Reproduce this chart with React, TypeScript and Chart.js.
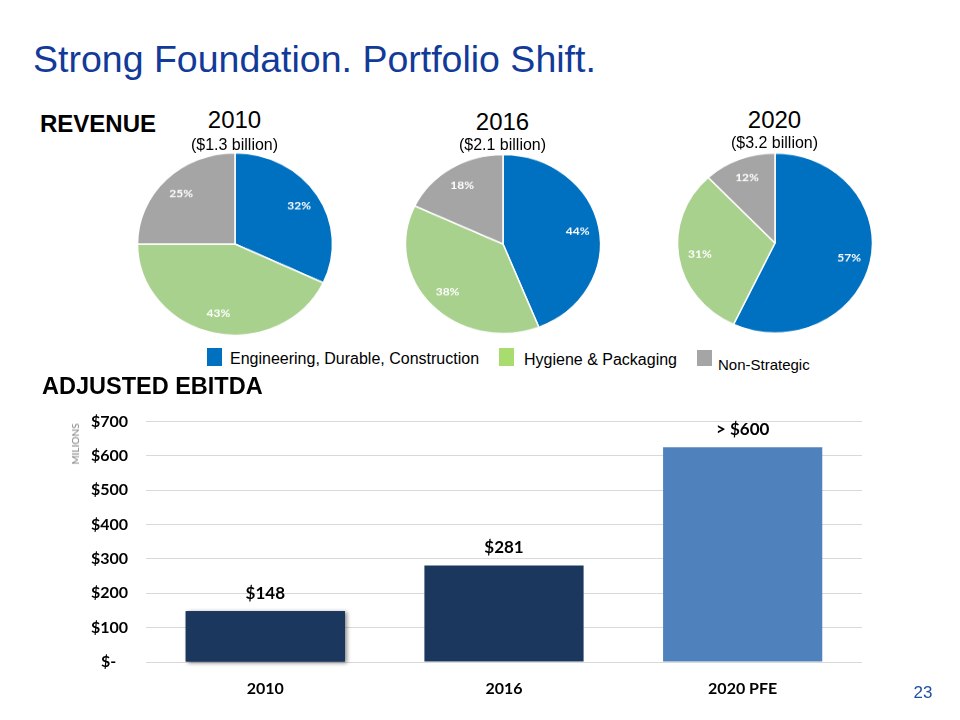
import React, { useEffect, useRef } from "react";
import { Chart, registerables } from "chart.js";
Chart.register(...registerables);

// ---------- data ----------
const segmentNames = ["Engineering, Durable, Construction", "Hygiene & Packaging", "Non-Strategic"];
const segmentColors = ["#0070C0", "#A9D18E", "#A5A5A5"];
const pieYears = ["2010", "2016", "2020"];
const pieTotals = ["($1.3 billion)", "($2.1 billion)", "($3.2 billion)"];
const share2010 = [32, 43, 25];
const share2016 = [44, 38, 18];
const share2020 = [57, 31, 12];

const ebitdaCategories = ["2010", "2016", "2020 PFE"];
const ebitdaValues = [148, 281, 625];
const ebitdaLabels = ["$148", "$281", "> $600"];
const ebitdaColors = ["#1B375E", "#1B375E", "#4F81BD"];
const yMax = 700;
const yStep = 100;

const ARIAL = '"Liberation Sans", Arial, sans-serif';
const CAL = 'Lato, "Open Sans", sans-serif';

// ---------- pie ----------
const pieLabelPlugin = {
  id: "pieLabels",
  afterDatasetsDraw(chart: any) {
    const ctx = chart.ctx;
    const meta = chart.getDatasetMeta(0);
    const data = chart.data.datasets[0].data;
    ctx.save();
    ctx.fillStyle = "#FFFFFF";
    ctx.font = `bold 12px ${CAL}`;
    ctx.textAlign = "center";
    ctx.textBaseline = "middle";
    meta.data.forEach((arc: any, i: number) => {
      const p = arc.getProps(["x", "y", "startAngle", "endAngle", "outerRadius"], true);
      const mid = (p.startAngle + p.endAngle) / 2;
      const r = p.outerRadius * 0.78;
      ctx.fillText(data[i] + "%", p.x + Math.cos(mid) * r, p.y + Math.sin(mid) * r);
    });
    ctx.restore();
  },
};

function Pie({ values, cx, cy, radius, scaleY }: { values: number[]; cx: number; cy: number; radius: number; scaleY: number }) {
  const ref = useRef<HTMLCanvasElement>(null);
  useEffect(() => {
    const chart = new Chart(ref.current!, {
      type: "pie",
      data: {
        labels: segmentNames,
        datasets: [
          {
            data: values,
            backgroundColor: segmentColors,
            borderColor: "#FFFFFF",
            borderWidth: 1.5,
            radius: radius,
          } as any,
        ],
      },
      options: {
        responsive: false,
        animation: false,
        plugins: { legend: { display: false }, tooltip: { enabled: false } },
        layout: { padding: 0 },
      },
      plugins: [pieLabelPlugin],
    });
    return () => chart.destroy();
  }, []);
  const S = 210;
  return (
    <canvas
      ref={ref}
      width={S}
      height={S}
      style={{
        position: "absolute",
        left: cx - S / 2,
        top: cy - S / 2,
        width: S,
        height: S,
        transform: `scaleY(${scaleY})`,
        transformOrigin: "50% 50%",
      }}
    />
  );
}

// ---------- bar ----------
const barLabelPlugin = {
  id: "barLabels",
  beforeDatasetsDraw(chart: any) {
    const ctx = chart.ctx;
    const bar: any = chart.getDatasetMeta(0).data[0];
    if (!bar) return;
    ctx.save();
    ctx.shadowColor = "rgba(0,0,0,0.45)";
    ctx.shadowBlur = 4;
    ctx.shadowOffsetX = 2;
    ctx.shadowOffsetY = 1;
    ctx.fillStyle = ebitdaColors[0];
    ctx.fillRect(bar.x - bar.width / 2, bar.y, bar.width, bar.base - bar.y);
    ctx.restore();
  },
  afterDatasetsDraw(chart: any) {
    const ctx = chart.ctx;
    const meta = chart.getDatasetMeta(0);
    ctx.save();
    ctx.fillStyle = "#000000";
    ctx.font = `bold 17px ${CAL}`;
    ctx.textAlign = "center";
    ctx.textBaseline = "bottom";
    meta.data.forEach((bar: any, i: number) => {
      ctx.fillText(ebitdaLabels[i], bar.x, bar.y - 9);
    });
    ctx.restore();
  },
};

function Bars() {
  const ref = useRef<HTMLCanvasElement>(null);
  useEffect(() => {
    const chart = new Chart(ref.current!, {
      type: "bar",
      data: {
        labels: ebitdaCategories,
        datasets: [
          {
            data: ebitdaValues,
            backgroundColor: ebitdaColors,
            borderWidth: 0,
            categoryPercentage: 1,
            barPercentage: 0.667,
          },
        ],
      },
      options: {
        responsive: false,
        animation: false,
        plugins: { legend: { display: false }, tooltip: { enabled: false } },
        layout: { padding: { top: 15, right: 98, left: 0, bottom: 0 } },
        scales: {
          x: {
            grid: { display: false, drawTicks: false },
            border: { display: false },
            ticks: { color: "#000", font: { family: CAL, size: 16, weight: "bold" }, padding: 17 },
            afterFit: (s: any) => {
              s.height = 58;
            },
          },
          y: {
            min: 0,
            max: yMax,
            grid: { color: "#D9D9D9", drawTicks: false, lineWidth: 1 },
            border: { display: false },
            ticks: {
              stepSize: yStep,
              color: "#000",
              font: { family: CAL, size: 16, weight: "bold" },
              padding: 18,
              callback: (v: any) => (Number(v) === 0 ? "$-   " : "$" + v),
            },
            afterFit: (s: any) => {
              s.width = 146;
            },
          },
        },
      } as any,
      plugins: [barLabelPlugin],
    });
    return () => chart.destroy();
  }, []);
  return (
    <canvas ref={ref} width={960} height={326} style={{ position: "absolute", left: 0, top: 394, width: 960, height: 326 }} />
  );
}

// ---------- helpers ----------
function Txt({ x, y, size, children, bold, color, align, family }: any) {
  const tx = align === "left" ? "0" : "-50%";
  return (
    <div
      style={{
        position: "absolute",
        left: x,
        top: y,
        transform: `translate(${tx}, -50%)`,
        fontFamily: family || ARIAL,
        fontSize: size,
        fontWeight: bold ? "bold" : "normal",
        color: color || "#000",
        lineHeight: 1,
        whiteSpace: "nowrap",
        zIndex: 2,
      }}
    >
      {children}
    </div>
  );
}

const pieCenters = [
  { cx: 234.5, cy: 244, r: 97.5, sy: 0.935 },
  { cx: 502.5, cy: 243.5, r: 97.5, sy: 0.918 },
  { cx: 774.5, cy: 243, r: 97.5, sy: 0.923 },
];
const pieShares = [share2010, share2016, share2020];
const pieTitleY = [120, 122, 120];
const pieTotalY = [145, 145, 143];

const legendItems = [
  { sx: 207, tx: 230, size: 16, ty: 359, sy: 348, sh: 18 },
  { sx: 499, tx: 524, size: 16, ty: 360, sy: 348, sh: 18 },
  { sx: 697, tx: 718, size: 15, ty: 364, sy: 350, sh: 16 },
];

export default function App() {
  return (
    <div style={{ position: "absolute", left: 0, top: 0, width: 960, height: 720, background: "#fff", overflow: "hidden" }}>
      <Txt x={33} y={60} size={37.5} color="#123A98" align="left">
        Strong Foundation. Portfolio Shift.
      </Txt>
      <Txt x={40} y={124} size={24} bold align="left">
        REVENUE
      </Txt>
      <Txt x={42} y={387} size={23.5} bold align="left">
        ADJUSTED EBITDA
      </Txt>

      {pieCenters.map((p, i) => (
        <React.Fragment key={i}>
          <Pie values={pieShares[i]} cx={p.cx} cy={p.cy} radius={p.r} scaleY={p.sy} />
          <Txt x={p.cx} y={pieTitleY[i]} size={24}>
            {pieYears[i]}
          </Txt>
          <Txt x={p.cx} y={pieTotalY[i]} size={16}>
            {pieTotals[i]}
          </Txt>
        </React.Fragment>
      ))}

      {legendItems.map((l, i) => (
        <React.Fragment key={"lg" + i}>
          <div style={{ position: "absolute", left: l.sx, top: l.sy, width: 15, height: l.sh, background: i === 1 ? "#A9DC6E" : segmentColors[i] }} />
          <Txt x={l.tx} y={l.ty} size={l.size} align="left">
            {segmentNames[i]}
          </Txt>
        </React.Fragment>
      ))}

      <Bars />

      <div
        style={{
          position: "absolute",
          left: 75,
          top: 444,
          transform: "translate(-50%, -50%) rotate(-90deg)",
          fontFamily: CAL,
          fontSize: 10,
          color: "#7F7F7F",
          lineHeight: 1,
          whiteSpace: "nowrap",
          zIndex: 2,
        }}
      >
        MILIONS
      </div>

      <Txt x={923} y={692} size={17} color="#1F4E9D">
        23
      </Txt>
    </div>
  );
}
